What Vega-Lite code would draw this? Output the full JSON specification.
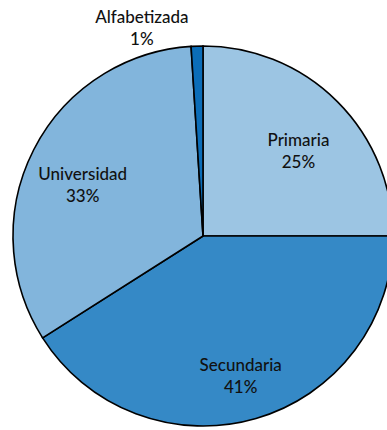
{
  "$schema": "https://vega.github.io/schema/vega-lite/v6.json",
  "width": 387,
  "height": 430,
  "padding": 0,
  "autosize": {"type": "fit", "contains": "padding"},
  "background": "white",
  "view": {"stroke": null},
  "data": {
    "values": [
      {"nivel": "Primaria", "pct": 25, "orden": 1},
      {"nivel": "Secundaria", "pct": 41, "orden": 2},
      {"nivel": "Universidad", "pct": 33, "orden": 3},
      {"nivel": "Alfabetizada", "pct": 1, "orden": 4}
    ]
  },
  "transform": [
    {"calculate": "datum.nivel + '\\n' + datum.pct + '%'", "as": "etiqueta"}
  ],
  "encoding": {
    "theta": {"field": "pct", "type": "quantitative", "stack": true},
    "order": {"field": "orden", "type": "quantitative"}
  },
  "layer": [
    {
      "mark": {"type": "arc", "x": 203, "y": 236, "outerRadius": 190, "stroke": "black", "strokeWidth": 1.6},
      "encoding": {
        "color": {
          "field": "nivel",
          "type": "nominal",
          "scale": {
            "domain": ["Primaria", "Secundaria", "Universidad", "Alfabetizada"],
            "range": ["#9cc5e3", "#3589c6", "#82b5dc", "#0b6db8"]
          },
          "legend": null
        }
      }
    },
    {
      "transform": [{"filter": "datum.pct > 5"}],
      "mark": {"type": "text", "x": 203, "y": 236, "radius": 135, "font": "Lato", "fontSize": 17, "fontWeight": 500, "lineBreak": "\n", "lineHeight": 22, "baseline": "middle", "align": "center", "fill": "#111111"},
      "encoding": {"text": {"field": "etiqueta"}}
    },
    {
      "transform": [{"filter": "datum.pct <= 5"}],
      "mark": {"type": "text", "x": 203, "y": 236, "radius": 218, "dx": -68, "font": "Lato", "fontSize": 17, "fontWeight": 500, "lineBreak": "\n", "lineHeight": 22, "baseline": "middle", "align": "center", "fill": "#111111"},
      "encoding": {"text": {"field": "etiqueta"}}
    }
  ]
}
